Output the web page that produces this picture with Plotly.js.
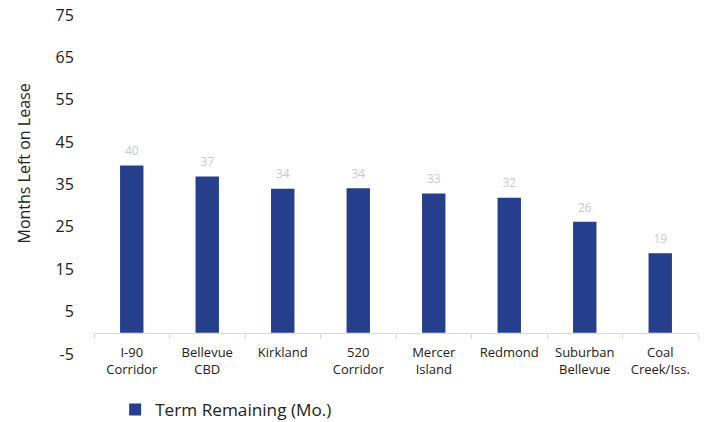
<!DOCTYPE html>
<html>
<head>
<meta charset="utf-8">
<script src="https://cdn.plot.ly/plotly-3.0.1.min.js"></script>
<style>html,body{margin:0;padding:0;background:#fff;}#chart{width:707px;height:422px;}</style>
</head>
<body>
<div id="chart"></div>
<script>
var categories = ["I-90<br>Corridor", "Bellevue<br>CBD", "Kirkland", "520<br>Corridor", "Mercer<br>Island", "Redmond", "Suburban<br>Bellevue", "Coal<br>Creek/Iss."];
var termRemaining = [39.5, 36.9, 34.0, 34.1, 32.9, 31.9, 26.2, 18.8];
var dataLabels = ["40", "37", "34", "34", "33", "32", "26", "19"];
var yTickValues = [-5, 5, 15, 25, 35, 45, 55, 65, 75];
var yTickLabels = ["-5", "5", "15", "25", "35", "45", "55", "65", "75"];
var seriesName = "Term Remaining (Mo.)";
var yTitle = "Months Left on Lease";

var barTrace = {
  type: "bar",
  x: categories,
  y: termRemaining,
  name: seriesName,
  marker: {color: "#253f8c"},
  width: 0.31,
  hoverinfo: "x+y"
};

var labelTrace = {
  type: "scatter",
  mode: "markers+text",
  x: categories,
  y: termRemaining,
  text: dataLabels,
  textposition: "top center",
  cliponaxis: false,
  textfont: {family: "Open Sans", size: 12, color: "#c8cad8"},
  marker: {size: 10, color: "rgba(0,0,0,0)"},
  showlegend: false,
  hoverinfo: "skip"
};

var layout = {
  width: 707,
  height: 422,
  margin: {l: 94, r: 9, t: 15, b: 68, autoexpand: false},
  paper_bgcolor: "#ffffff",
  plot_bgcolor: "#ffffff",
  font: {family: "Open Sans", color: "#222222"},
  showlegend: true,
  legend: {
    orientation: "h",
    x: 0.035, xanchor: "left",
    y: -0.165, yanchor: "middle",
    font: {family: "Open Sans", size: 17.2, color: "#222222"},
    itemwidth: 30
  },
  xaxis: {
    type: "category",
    range: [-0.5, categories.length - 0.5],
    anchor: "free",
    position: 5 / 80,
    showline: true,
    linecolor: "#d9d9d9",
    linewidth: 1,
    ticks: "outside",
    tickson: "boundaries",
    ticklen: 5,
    tickcolor: "#d9d9d9",
    ticklabelstandoff: 8,
    showgrid: false,
    tickfont: {family: "Open Sans", size: 13, color: "#222222"},
    fixedrange: true
  },
  yaxis: {
    range: [-5, 75],
    tickvals: yTickValues,
    ticktext: yTickLabels,
    showgrid: false,
    zeroline: false,
    showline: false,
    ticks: "outside",
    ticklen: 16,
    tickcolor: "rgba(0,0,0,0)",
    tickfont: {family: "Open Sans", size: 16, color: "#222222"},
    fixedrange: true
  },
  annotations: [{
    text: yTitle,
    xref: "paper", yref: "paper",
    x: -0.1167, y: 0.5605,
    xanchor: "center", yanchor: "middle",
    textangle: -90,
    showarrow: false,
    font: {family: "Open Sans", size: 16, color: "#222222"}
  }]
};

Plotly.newPlot("chart", [barTrace, labelTrace], layout, {displayModeBar: false, staticPlot: true});
</script>
</body>
</html>
